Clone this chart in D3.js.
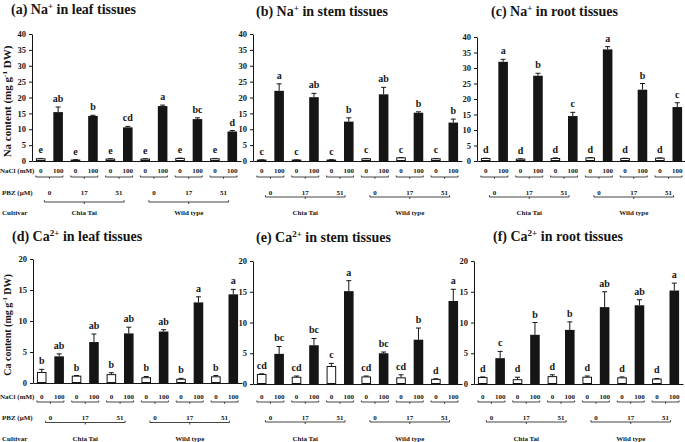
<!DOCTYPE html>
<html><head><meta charset="utf-8">
<script src="https://cdn.jsdelivr.net/npm/d3@7"></script>
<style>
body{margin:0;background:#fff}
svg{display:block}
text{font-family:"Liberation Serif","Times New Roman",Times,serif;font-weight:bold;fill:#151515}
</style>
</head><body>
<svg id="chart" width="685" height="442"></svg>
<script>
// ---------- data ----------
const cultivars = ["Chia Tai", "Wild type"];
const pbzLevels = ["0", "17", "51"];
const naclLevels = ["0", "100"];
const naTicks = [0, 5, 10, 15, 20, 25, 30, 35, 40];
const caTicks = [0, 5, 10, 15, 20];

// order: Chia Tai (PBZ 0,17,51) x NaCl (0,100), then Wild type
const naLeafMean = [0.7, 15.4, 0.3, 14.2, 0.6, 10.6, 0.6, 17.3, 0.8, 13.2, 0.7, 9.3];
const naLeafErr = [0.1, 1.6, 0.1, 0.2, 0.1, 0.3, 0.1, 0.3, 0.1, 0.4, 0.1, 0.3];
const naLeafLetters = ["e", "ab", "e", "b", "e", "cd", "e", "a", "e", "bc", "e", "d"];

const naStemMean = [0.3, 22.1, 0.3, 20.1, 0.3, 12.4, 0.7, 21.0, 1.0, 15.2, 0.7, 12.1];
const naStemErr = [0.05, 2.2, 0.05, 1.2, 0.1, 1.2, 0.1, 2.2, 0.1, 0.3, 0.1, 1.1];
const naStemLetters = ["c", "a", "c", "ab", "c", "b", "c", "ab", "c", "b", "c", "b"];

const naRootMean = [0.8, 32.0, 0.6, 27.5, 0.8, 14.5, 1.0, 36.0, 0.8, 23.0, 0.9, 17.4];
const naRootErr = [0.1, 0.8, 0.1, 0.8, 0.2, 1.2, 0.1, 0.9, 0.1, 2.0, 0.1, 1.4];
const naRootLetters = ["d", "a", "d", "b", "d", "c", "d", "a", "d", "b", "d", "c"];

const caLeafMean = [1.7, 4.3, 1.1, 6.6, 1.35, 8.0, 0.85, 8.3, 0.6, 13.0, 1.0, 14.3];
const caLeafErr = [0.5, 0.4, 0.1, 1.3, 0.3, 1.0, 0.2, 0.3, 0.15, 0.9, 0.2, 0.8];
const caLeafLetters = ["b", "ab", "b", "ab", "b", "ab", "b", "ab", "b", "a", "b", "a"];

const caStemMean = [1.55, 4.9, 1.1, 6.3, 2.85, 15.1, 1.15, 5.0, 1.0, 7.2, 0.75, 13.5];
const caStemErr = [0.1, 1.2, 0.2, 1.1, 0.5, 1.7, 0.15, 0.2, 0.5, 1.9, 0.1, 1.9];
const caStemLetters = ["cd", "bc", "cd", "bc", "c", "a", "cd", "bc", "cd", "b", "d", "a"];

const caRootMean = [1.05, 4.2, 0.7, 8.0, 1.2, 8.8, 1.1, 12.5, 1.0, 12.8, 0.8, 15.2];
const caRootErr = [0.1, 1.1, 0.4, 2.0, 0.3, 1.3, 0.2, 2.5, 0.15, 0.9, 0.1, 1.2];
const caRootLetters = ["d", "c", "d", "b", "d", "b", "d", "ab", "d", "ab", "d", "a"];

// ---------- layout ----------
const categories = [];
cultivars.forEach(c => pbzLevels.forEach(p => naclLevels.forEach(n => categories.push({c, p, n}))));
const catKeys = categories.map(d => d.c + "|" + d.p + "|" + d.n);

const rowsTop = {nacl: 172.5, naclBr: 177, pbz: 194.5, cult: 215};
const rowsBot = {nacl: 398.5, naclBr: 402, pbz: 419.5, pbzBr: 422.5, cult: 441};

const panels = [
  {ion: "Na", sup: "+", tissue: " in leaf tissues", tag: "(a) ", mean: naLeafMean, err: naLeafErr, letters: naLeafLetters,
   ticks: naTicks, x0: 32, y0: 161, yTop: 34, tx: 11, ty: 14, rows: rowsTop, pbzBr: 202, ylab: "Na", ylabSize: 11, first: true},
  {ion: "Na", sup: "+", tissue: " in stem tissues", tag: "(b) ", mean: naStemMean, err: naStemErr, letters: naStemLetters,
   ticks: naTicks, x0: 253, y0: 161, yTop: 34, tx: 256, ty: 16, rows: rowsTop, pbzBr: 197},
  {ion: "Na", sup: "+", tissue: " in root tissues", tag: "(c) ", mean: naRootMean, err: naRootErr, letters: naRootLetters,
   ticks: naTicks, x0: 477, y0: 161, yTop: 37, tx: 491, ty: 16, rows: rowsTop, pbzBr: 197},
  {ion: "Ca", sup: "2+", tissue: " in leaf tissues", tag: "(d) ", mean: caLeafMean, err: caLeafErr, letters: caLeafLetters,
   ticks: caTicks, x0: 33, y0: 383, yTop: 259, tx: 12, ty: 241, rows: rowsBot, pbzBr: 422.5, ylab: "Ca", ylabSize: 10, first: true},
  {ion: "Ca", sup: "2+", tissue: " in stem tissues", tag: "(e) ", mean: caStemMean, err: caStemErr, letters: caStemLetters,
   ticks: caTicks, x0: 253, y0: 384, yTop: 261, tx: 256, ty: 242, rows: rowsBot, pbzBr: 422},
  {ion: "Ca", sup: "2+", tissue: " in root tissues", tag: "(f) ", mean: caRootMean, err: caRootErr, letters: caRootLetters,
   ticks: caTicks, x0: 474, y0: 384, yTop: 261, tx: 493, ty: 241, rows: rowsBot, pbzBr: 422}
];

const svg = d3.select("#chart");
const ink = "#151515";

panels.forEach(P => {
  const g = svg.append("g");
  const x = d3.scaleBand().domain(catKeys).range([P.x0, P.x0 + 209]).paddingInner(0.45).paddingOuter(0.225);
  const yMax = P.ticks[P.ticks.length - 1];
  const y = d3.scaleLinear().domain([0, yMax]).range([P.y0, P.yTop]);
  const bw = x.bandwidth();

  // title
  const t = g.append("text").attr("x", P.tx).attr("y", P.ty).attr("font-size", 14);
  t.append("tspan").text(P.tag + P.ion);
  t.append("tspan").attr("font-size", 9).attr("dy", -5).text(P.sup);
  t.append("tspan").attr("dy", 5).text(P.tissue);

  // y axis
  const ya = g.append("g").attr("transform", `translate(${P.x0},0)`)
    .call(d3.axisLeft(y).tickValues(P.ticks).tickSize(3).tickSizeOuter(0).tickPadding(3));
  ya.selectAll("path,line").attr("stroke", ink).attr("stroke-width", 1);
  ya.selectAll("text").attr("font-size", 8.5).attr("font-family", null).attr("fill", ink);

  // x axis line
  const xa = g.append("g").attr("transform", `translate(0,${P.y0})`)
    .call(d3.axisBottom(x).tickSize(0).tickSizeOuter(0).tickFormat(""));
  xa.selectAll("path").attr("stroke", ink).attr("stroke-width", 1);

  // y label
  if (P.ylab) {
    const cy = (P.y0 + P.yTop) / 2 + 4;
    const yl = g.append("text").attr("transform", `translate(11,${cy}) rotate(-90)`)
      .attr("text-anchor", "middle").attr("font-size", P.ylabSize);
    yl.append("tspan").text(P.ylab + " content (mg g");
    yl.append("tspan").attr("font-size", P.ylabSize * 0.65).attr("dy", -4).text("-1");
    yl.append("tspan").attr("dy", 4).text(" DW)");
  }

  // bars
  categories.forEach((d, i) => {
    const k = catKeys[i];
    const black = d.n !== "0";
    const top = y(P.mean[i]);
    const errTop = y(P.mean[i] + P.err[i]);
    const cx = x(k) + bw / 2;
    // error bar
    g.append("line").attr("x1", cx).attr("x2", cx).attr("y1", top).attr("y2", errTop)
      .attr("stroke", ink).attr("stroke-width", 1);
    g.append("line").attr("x1", cx - 2.5).attr("x2", cx + 2.5).attr("y1", errTop).attr("y2", errTop)
      .attr("stroke", ink).attr("stroke-width", 1);
    g.append("rect").attr("x", x(k) + (black ? 0 : 0.5)).attr("y", top)
      .attr("width", black ? bw : bw - 1).attr("height", Math.max(0.6, P.y0 - top - (black ? 0 : 0.5)))
      .attr("fill", black ? ink : "#fff").attr("stroke", ink).attr("stroke-width", black ? 0 : 1);
    // letter
    g.append("text").attr("x", cx).attr("y", errTop - 5).attr("text-anchor", "middle")
      .attr("font-size", 10).text(P.letters[i]);
    // NaCl label
    g.append("text").attr("x", cx).attr("y", P.rows.nacl).attr("text-anchor", "middle")
      .attr("font-size", 7).text(d.n);
  });

  // NaCl brackets (per pair) and PBZ labels
  cultivars.forEach(c => {
    const pairCenters = [];
    pbzLevels.forEach(p => {
      const k0 = c + "|" + p + "|" + naclLevels[0];
      const k1 = c + "|" + p + "|" + naclLevels[1];
      const xa0 = x(k0), xa1 = x(k1) + bw;
      const yb = P.rows.naclBr;
      const mid = (xa0 + xa1) / 2;
      g.append("path").attr("d", `M${xa0},${yb - 1.5}V${yb}H${xa1}V${yb - 1.5}M${mid},${yb}V${yb + 1.8}`)
        .attr("fill", "none").attr("stroke", ink).attr("stroke-width", 0.8);
      pairCenters.push(mid);
      g.append("text").attr("x", mid).attr("y", P.rows.pbz).attr("text-anchor", "middle")
        .attr("font-size", 7).text(p);
    });
    const b0 = pairCenters[0] - 5, b1 = pairCenters[pairCenters.length - 1] + 5;
    const yb = P.pbzBr;
    g.append("path").attr("d", `M${b0},${yb - 1.8}V${yb}H${b1}V${yb - 1.8}M${(b0 + b1) / 2},${yb}V${yb + 2}`)
      .attr("fill", "none").attr("stroke", ink).attr("stroke-width", 0.8);
    g.append("text").attr("x", (b0 + b1) / 2).attr("y", P.rows.cult).attr("text-anchor", "middle")
      .attr("font-size", 7).text(c);
  });

  if (P.first) {
    g.append("text").attr("x", 0).attr("y", P.rows.nacl).attr("font-size", 7).text("NaCl (mM)");
    g.append("text").attr("x", 2).attr("y", P.rows.pbz).attr("font-size", 7).text("PBZ (µM)");
    g.append("text").attr("x", 2).attr("y", P.rows.cult).attr("font-size", 7).text("Cultivar");
  }
});
</script>
</body></html>
